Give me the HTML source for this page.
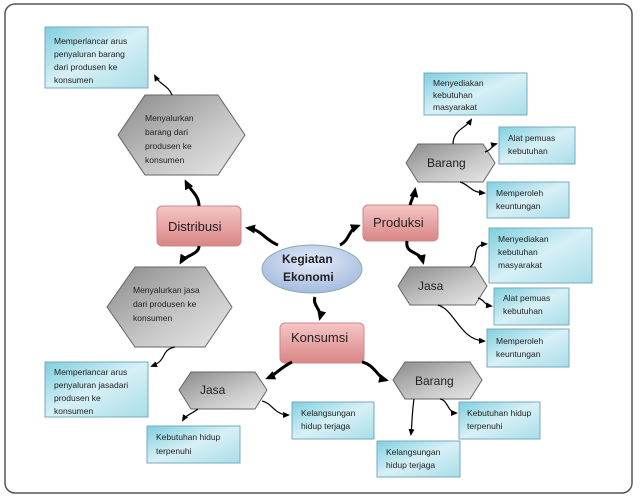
<!DOCTYPE html>
<html><head><meta charset="utf-8"><style>
html,body{margin:0;padding:0;background:#fff}
svg text{font-family:"Liberation Sans",sans-serif;fill:#222}
</style></head><body>
<svg width="640" height="497" viewBox="0 0 640 497" xmlns="http://www.w3.org/2000/svg">
<defs>
<linearGradient id="bl" x1="0" y1="0" x2="1" y2="1"><stop offset="0" stop-color="#7fcfdf"/><stop offset="0.5" stop-color="#d7f0f6"/><stop offset="1" stop-color="#a9dde9"/></linearGradient>
<linearGradient id="pk" x1="0" y1="0" x2="0" y2="1"><stop offset="0" stop-color="#f6c6c6"/><stop offset="1" stop-color="#d98585"/></linearGradient>
<linearGradient id="gr" x1="0" y1="0" x2="1" y2="1"><stop offset="0" stop-color="#8a8a8a"/><stop offset="0.6" stop-color="#c8c8c8"/><stop offset="1" stop-color="#e8e8e8"/></linearGradient>
<radialGradient id="el" cx="0.5" cy="0.35" r="0.7"><stop offset="0" stop-color="#e4ecf8"/><stop offset="1" stop-color="#9fb6de"/></radialGradient>
<marker id="a" markerUnits="userSpaceOnUse" markerWidth="7" markerHeight="6" refX="5" refY="3" orient="auto"><path d="M0,0 L7,3 L0,6 z" fill="#000"/></marker>
<marker id="b" markerUnits="userSpaceOnUse" markerWidth="10" markerHeight="9" refX="7" refY="4.5" orient="auto"><path d="M0,0 L10,4.5 L0,9 z" fill="#000"/></marker>
</defs>
<rect x="5" y="4" width="627" height="489" rx="10" fill="#fff" stroke="#555" stroke-width="1.5"/>
<g stroke="#7ab" stroke-width="1" fill="url(#bl)">
<rect x="45" y="27" width="103" height="61"/>
<rect x="424" y="73" width="103" height="42"/>
<rect x="499" y="127" width="76" height="37"/>
<rect x="487" y="182" width="82" height="36"/>
<rect x="489" y="228" width="103" height="55"/>
<rect x="494" y="288" width="75" height="37"/>
<rect x="487" y="329" width="82" height="38"/>
<rect x="45" y="362" width="103" height="55"/>
<rect x="147" y="426" width="93" height="37"/>
<rect x="292" y="402" width="82" height="37"/>
<rect x="377" y="441" width="83" height="36"/>
<rect x="459" y="402" width="81" height="37"/>
</g>
<g font-size="8.5">
<text x="54" y="44">Memperlancar arus</text><text x="54" y="57">penyaluran  barang</text><text x="54" y="70">dari produsen ke</text><text x="54" y="83">konsumen</text>
<text x="433" y="86">Menyediakan</text><text x="433" y="98">kebutuhan</text><text x="433" y="110" font-family="Liberation Serif">masyarakat</text>
<text x="508" y="141">Alat pemuas</text><text x="508" y="154">kebutuhan</text>
<text x="496" y="196">Memperoleh</text><text x="496" y="209">keuntungan</text>
<text x="498" y="242">Menyediakan</text><text x="498" y="255">kebutuhan</text><text x="498" y="268">masyarakat</text>
<text x="503" y="301">Alat pemuas</text><text x="503" y="314">kebutuhan</text>
<text x="496" y="344">Memperoleh</text><text x="496" y="357">keuntungan</text>
<text x="54" y="375">Memperlancar arus</text><text x="54" y="388">penyaluran  jasadari</text><text x="54" y="401">produsen  ke</text><text x="54" y="414" font-family="Liberation Serif">konsumen</text>
<text x="156" y="440">Kebutuhan hidup</text><text x="156" y="454">terpenuhi</text>
<text x="301" y="416">Kelangsungan</text><text x="301" y="429">hidup terjaga</text>
<text x="386" y="455">Kelangsungan</text><text x="386" y="468">hidup terjaga</text>
<text x="467" y="416">Kebutuhan hidup</text><text x="467" y="429">terpenuhi</text>
</g>
<g stroke="#666" stroke-width="1" fill="url(#gr)">
<polygon points="118,135 145,95 218,95 245,135 218,175 145,175"/>
<polygon points="107,307 135,267 205,267 232,307 205,347 135,347"/>
<polygon points="406,163 418,144 483,144 495,163 483,182 418,182"/>
<polygon points="398,286 410,267 475,267 487,286 475,305 410,305"/>
<polygon points="179,390 191,372 255,372 267,390 255,409 191,409"/>
<polygon points="393,380 405,362 470,362 482,380 470,399 405,399"/>
</g>
<g font-size="8.5"><text x="145" y="121">Menyalurkan</text><text x="145" y="135">barang dari</text><text x="145" y="149">produsen ke</text><text x="145" y="163">konsumen</text>
<text x="133" y="293">Menyalurkan jasa</text><text x="133" y="307">dari produsen ke</text><text x="133" y="321">konsumen</text></g>
<g font-size="12"><text x="427" y="167">Barang</text><text x="418" y="290">Jasa</text><text x="200" y="394">Jasa</text><text x="415" y="385">Barang</text></g>
<g stroke="#c88" stroke-width="1" fill="url(#pk)">
<rect x="157" y="206" width="84" height="40" rx="5"/>
<rect x="363" y="205" width="75" height="36" rx="5"/>
<rect x="280" y="323" width="84" height="40" rx="5"/>
</g>
<g font-size="13"><text x="168" y="231">Distribusi</text><text x="373" y="227">Produksi</text><text x="291" y="342">Konsumsi</text></g>
<ellipse cx="312" cy="269" rx="50" ry="24" fill="url(#el)" stroke="#8aa" stroke-width="1"/>
<text x="282" y="263" font-size="12" font-weight="bold">Kegiatan</text><text x="283" y="281" font-size="12" font-weight="bold">Ekonomi</text>
<g fill="none" stroke="#000" stroke-width="3">
<path d="M278,245 C265,240 262,230 248,228" marker-end="url(#b)"/>
<path d="M340,245 C350,240 348,230 358,226" marker-end="url(#b)"/>
<path d="M315,297 C312,305 322,310 320,318" marker-end="url(#b)"/>
<path d="M199,206 C199,195 190,190 186,182" marker-end="url(#b)"/>
<path d="M199,246 C199,255 185,255 181,262" marker-end="url(#b)"/>
<path d="M410,205 C412,198 414,196 415,190" marker-end="url(#b)"/>
<path d="M407,241 C405,255 420,250 423,262" marker-end="url(#b)"/>
<path d="M292,362 C280,368 275,375 268,378" marker-end="url(#b)"/>
<path d="M362,362 C375,365 378,378 386,380" marker-end="url(#b)"/>
</g>
<g fill="none" stroke="#000" stroke-width="1.2">
<path d="M172,95 C168,85 160,85 155,76" marker-end="url(#a)"/>
<path d="M175,347 C160,350 168,360 152,366" marker-end="url(#a)"/>
<path d="M453,144 C453,130 466,128 471,120" marker-end="url(#a)"/>
<path d="M485,152 C492,150 492,145 496,144" marker-end="url(#a)"/>
<path d="M460,182 C470,185 470,192 484,193" marker-end="url(#a)"/>
<path d="M470,267 C480,260 470,245 486,244" marker-end="url(#a)"/>
<path d="M478,298 C485,300 484,305 491,306" marker-end="url(#a)"/>
<path d="M438,305 C455,310 460,340 484,341" marker-end="url(#a)"/>
<path d="M198,409 C190,415 186,415 183,420" marker-end="url(#a)"/>
<path d="M262,401 C272,403 275,415 288,415" marker-end="url(#a)"/>
<path d="M414,399 C412,412 412,425 411,434" marker-end="url(#a)"/>
<path d="M440,399 C448,400 448,413 456,413" marker-end="url(#a)"/>
</g>
</svg>
</body></html>
